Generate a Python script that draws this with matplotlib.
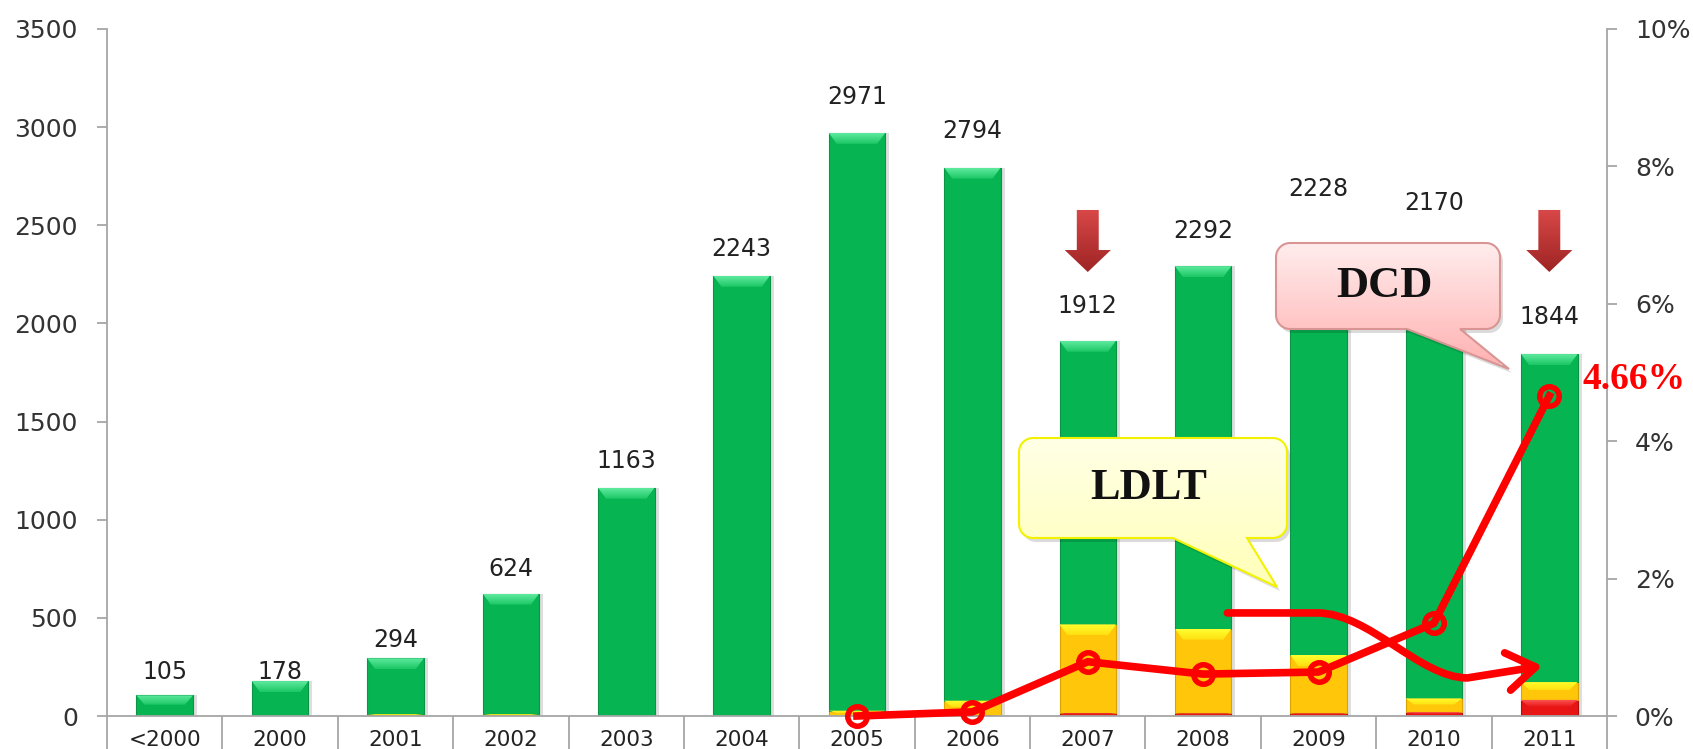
import numpy as np
import matplotlib
matplotlib.use('Agg')
import matplotlib.pyplot as plt
from matplotlib.patches import Polygon, FancyArrow, FancyArrowPatch
from matplotlib.path import Path
from matplotlib.colors import LinearSegmentedColormap

# ---------------- data ----------------
categories = ['<2000', '2000', '2001', '2002', '2003', '2004', '2005',
              '2006', '2007', '2008', '2009', '2010', '2011']
totals = [105, 178, 294, 624, 1163, 2243, 2971, 2794, 1912, 2292, 2228, 2170, 1844]
dcd_cases = [0, 0, 0, 0, 0, 0, 0, 2, 15, 14, 14, 20, 82]
ldlt_cases = [0, 0, 10, 10, 0, 0, 27, 76, 452, 431, 297, 70, 91]
dcd_years = ['2005', '2006', '2007', '2008', '2009', '2010', '2011']
dcd_pct = [0.0, 0.06, 0.79, 0.61, 0.64, 1.35, 4.66]
left_ticks = [0, 500, 1000, 1500, 2000, 2500, 3000, 3500]
right_ticks = [0, 2, 4, 6, 8, 10]
drop_years = ['2007', '2011']

# ---------------- layout ----------------
W, H = 1693, 749
label_gap_px = [23, 9, 18, 25, 27, 27, 36, 37, 35, 35, 90, 87, 37]
bar_w = 0.49

plt.rcParams['font.family'] = ['DejaVu Sans']
fig = plt.figure(figsize=(W / 100, H / 100), dpi=100)
ax = fig.add_axes([107 / W, 33 / H, 1500 / W, 687 / H])

x = np.arange(len(categories))
tot = np.array(totals, float)
dcd = np.array(dcd_cases, float)
ldlt = np.array(ldlt_cases, float)
green = tot - dcd - ldlt

# soft shadow
ax.bar(x + 0.035, tot, bar_w, color='#000000', alpha=0.13, zorder=1, linewidth=0)


def gradient_fill(axis, patch, c_top, c_bottom, extent, z):
    grad = np.linspace(0, 1, 256).reshape(-1, 1)
    cmap = LinearSegmentedColormap.from_list('g', [c_top, c_bottom])
    im = axis.imshow(grad, cmap=cmap, extent=extent, aspect='auto',
                     origin='upper', zorder=z, interpolation='bilinear')
    im.set_clip_path(patch)
    return im


styles = [
    (dcd, 0, '#E81515', '#FF5A5A', '#E81515', '#B01010'),
    (ldlt, dcd, '#FFC60A', '#FFFF30', '#FFE010', '#D9A400'),
    (green, dcd + ldlt, '#06B452', '#5EEA9E', '#1CC765', '#0A9447'),
]
unit_per_px = 3500 / 687.0
for vals, bottom, body, cap_top, cap_bot, edge in styles:
    cont = ax.bar(x, vals, bar_w, bottom=bottom, color=body, edgecolor=edge,
                  linewidth=0.8, zorder=2)
    for p in cont.patches:
        h = p.get_height()
        if h <= 0:
            continue
        x0, w, y0 = p.get_x(), p.get_width(), p.get_y()
        ch = min(11 * unit_per_px, 0.45 * h)
        ins = 0.07
        cap = Polygon([(x0, y0 + h), (x0 + w, y0 + h),
                       (x0 + w - ins, y0 + h - ch), (x0 + ins, y0 + h - ch)],
                      closed=True, facecolor='none', edgecolor='none', zorder=3)
        ax.add_patch(cap)
        gradient_fill(ax, cap, cap_top, cap_bot, (x0, x0 + w, y0 + h - ch, y0 + h), 3)

# value labels
for i, t in enumerate(totals):
    ax.annotate(str(t), (x[i], t), xytext=(0, label_gap_px[i] * 0.72),
                textcoords='offset points', ha='center', va='center',
                fontsize=17, color='#222222', zorder=6)

# down arrows above falling years
arrow_top, arrow_bottom = 2578, 2262
for yr in drop_years:
    i = categories.index(yr)
    arr = FancyArrow(x[i], arrow_top, 0, arrow_bottom - arrow_top, width=0.19,
                     head_width=0.40, head_length=112, length_includes_head=True,
                     facecolor='none', edgecolor='none', zorder=5)
    ax.add_patch(arr)
    gradient_fill(ax, arr, '#D94848', '#9E2424',
                  (x[i] - 0.25, x[i] + 0.25, arrow_bottom, arrow_top), 5)

# LDLT trend arrow (annotation)
trend = Path([(9.21, 525), (9.99, 525), (10.44, 525), (10.88, 194), (11.29, 194), (11.94, 255)],
             [Path.MOVETO, Path.LINETO, Path.CURVE4, Path.CURVE4, Path.CURVE4, Path.LINETO])
ax.add_patch(FancyArrowPatch(path=trend, arrowstyle='->,head_length=0.6,head_width=0.4',
                             mutation_scale=34, color='#FF0000', lw=5.5, zorder=7,
                             capstyle='round', joinstyle='round'))

ax.set_xlim(-0.5, len(categories) - 0.5)
ax.set_ylim(0, 3500)

gray = '#A6A6A6'
ax.set_xticks(x)
ax.set_xticklabels(categories)
ax.set_xticks(np.arange(-0.5, len(categories), 1), minor=True)
ax.tick_params(axis='x', which='major', length=0, pad=10, labelsize=15.5, labelcolor='#222222')
ax.tick_params(axis='x', which='minor', length=30, width=1.3, color=gray, direction='out')
ax.set_yticks(left_ticks)
ax.tick_params(axis='y', length=7, width=1.3, color=gray, pad=14, labelsize=18,
               labelcolor='#333333', direction='out')
for s in ['top', 'right']:
    ax.spines[s].set_visible(False)
for s in ['left', 'bottom']:
    ax.spines[s].set_color(gray)
    ax.spines[s].set_linewidth(1.3)

# DCD percentage line
ax2 = ax.twinx()
idx = [categories.index(y) for y in dcd_years]
ax2.plot(idx, np.array(dcd_pct) / 100, color='#FF0000', lw=5.5, marker='o', ms=14,
         mfc='none', mec='#FF0000', mew=4, clip_on=False, zorder=4)
ax2.set_ylim(0, 0.10)
ax2.set_yticks(np.array(right_ticks) / 100)
ax2.set_yticklabels([f'{t}%' for t in right_ticks])
ax2.tick_params(axis='y', length=7, width=1.3, color=gray, pad=13, labelsize=18,
                labelcolor='#333333', direction='out')
for s in ['top', 'left', 'bottom']:
    ax2.spines[s].set_visible(False)
ax2.spines['right'].set_color(gray)
ax2.spines['right'].set_linewidth(1.3)
ax2.set_xlim(-0.5, len(categories) - 0.5)
ax2.annotate(f'{dcd_pct[-1]:.2f}%', (idx[-1], dcd_pct[-1] / 100), xytext=(24, 11.5),
             textcoords='offset points', ha='left', va='center', fontsize=27,
             fontweight='bold', color='#FF0000', family=['Liberation Serif'])

# ---------------- callouts (pixel overlay) ----------------
ov = fig.add_axes([0, 0, 1, 1])
ov.set_xlim(0, W)
ov.set_ylim(H, 0)
ov.axis('off')
ov.patch.set_visible(False)


def callout_pts(x0, y0, x1, y1, r, tb1, tb2, tip):
    pts = []

    def arc(cx, cy, a0, a1):
        for a in np.linspace(a0, a1, 10):
            pts.append((cx + r * np.cos(a), cy + r * np.sin(a)))
    pts.append((x0 + r, y0))
    arc(x1 - r, y0 + r, -np.pi / 2, 0)
    arc(x1 - r, y1 - r, 0, np.pi / 2)
    pts.append((tb2, y1))
    pts.append(tip)
    pts.append((tb1, y1))
    arc(x0 + r, y1 - r, np.pi / 2, np.pi)
    arc(x0 + r, y0 + r, np.pi, 3 * np.pi / 2)
    return np.array(pts)


def callout(box, tail, tip, text, c_top, c_bottom, edge):
    x0, y0, x1, y1 = box
    pts = callout_pts(x0, y0, x1, y1, 14, tail[0], tail[1], tip)
    ov.add_patch(Polygon(pts + np.array([3, 4]), closed=True, facecolor='#000000',
                         alpha=0.14, edgecolor='none', zorder=1))
    clip = Polygon(pts, closed=True, facecolor='none', edgecolor='none', zorder=2)
    ov.add_patch(clip)
    gradient_fill(ov, clip, c_top, c_bottom, (x0, x1, tip[1], y0), 2)
    ov.add_patch(Polygon(pts, closed=True, facecolor='none', edgecolor=edge,
                         linewidth=1.5, zorder=3))
    ov.text((x0 + x1) / 2 - 4, (y0 + y1) / 2, text, ha='center', va='center',
            fontsize=32, fontweight='bold', family=['Liberation Serif'], color='#111111',
            zorder=4)


callout((1276, 243, 1500, 329), (1407, 1460), (1509, 369), 'DCD',
        '#FFEDED', '#FFB0B0', '#D99594')
callout((1019, 438, 1287, 538), (1173, 1247), (1277, 587), 'LDLT',
        '#FFFFE6', '#FFFFB8', '#F2F200')

ov.set_xlim(0, W)
ov.set_ylim(H, 0)
ax.set_xlim(-0.5, len(categories) - 0.5)
ax.set_ylim(0, 3500)

fig.savefig('out.png', dpi=100)
